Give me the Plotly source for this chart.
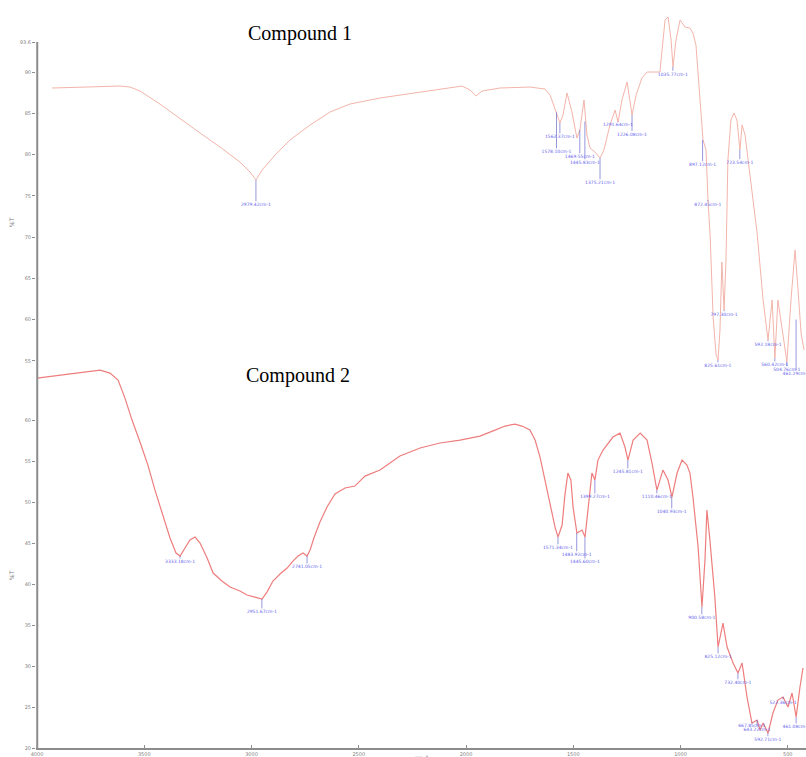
import plotly.graph_objects as go

# ---------------- data ----------------
# Compound 1 (top spectrum): wavenumber (cm-1) and %T
c1_wn = [3930, 3800, 3706, 3613, 3566, 3520, 3427, 3333, 3240, 3147, 3054, 3007, 2979, 2951, 2890,
         2821, 2727, 2634, 2541, 2401, 2214, 2075, 2019, 1981, 1953, 1925, 1842, 1702, 1632, 1608,
         1585, 1562, 1548, 1529, 1506, 1483, 1469, 1450, 1436, 1422, 1399, 1375, 1357, 1329, 1305,
         1291, 1273, 1249, 1226, 1207, 1180, 1156, 1128, 1096, 1086, 1072, 1058, 1044, 1035, 1021,
         1002, 979, 956, 942, 928, 909, 895, 881, 872, 862, 848, 834, 825, 816, 807, 797, 788, 779,
         765, 751, 737, 723, 713, 699, 676, 643, 615, 592, 573, 560, 546, 527, 504, 485, 466, 452,
         438, 424]
c1_t = [88.06, 88.18, 88.18, 88.30, 88.18, 87.70, 86.12, 84.30, 82.61, 80.91, 79.09, 77.88, 76.91,
        78.12, 79.94, 81.76, 83.58, 85.15, 86.12, 86.85, 87.58, 88.06, 88.30, 87.82, 87.09, 87.70,
        88.06, 88.18, 87.94, 87.21, 85.39, 83.82, 84.79, 87.45, 85.15, 82.00, 82.97, 86.61, 82.36,
        80.79, 80.30, 79.58, 80.55, 83.58, 85.39, 83.94, 86.61, 88.79, 84.79, 87.21, 89.27, 90.00,
        90.00, 90.00, 92.67, 96.30, 96.67, 93.88, 90.61, 93.88, 96.30, 95.45, 95.33, 94.73, 93.27,
        86.61, 81.76, 80.55, 74.48, 70.24, 60.30, 55.70, 55.09, 58.73, 66.97, 61.15, 67.21, 79.33,
        84.18, 85.03, 84.18, 80.55, 83.58, 82.36, 77.52, 70.48, 62.36, 57.52, 62.36, 55.33, 62.36,
        58.73, 54.85, 62.36, 68.42, 63.58, 58.36, 56.30]

# Compound 2 (bottom spectrum)
c2_wn = [4000, 3893, 3800, 3706, 3660, 3622, 3590, 3557, 3520, 3483, 3450, 3417, 3380, 3352, 3333,
         3310, 3287, 3263, 3240, 3207, 3179, 3138, 3100, 3054, 3021, 2984, 2951, 2928, 2900, 2867,
         2834, 2807, 2783, 2760, 2741, 2727, 2709, 2681, 2648, 2611, 2564, 2518, 2471, 2401, 2308,
         2214, 2121, 2028, 1935, 1865, 1818, 1772, 1739, 1702, 1678, 1655, 1632, 1608, 1585, 1571,
         1552, 1539, 1525, 1511, 1501, 1483, 1459, 1445, 1431, 1413, 1399, 1385, 1361, 1315, 1282,
         1259, 1245, 1221, 1188, 1156, 1133, 1110, 1082, 1058, 1040, 1016, 993, 970, 956, 942, 918,
         900, 886, 877, 863, 840, 825, 802, 783, 755, 732, 713, 690, 667, 643, 629, 615, 592, 569,
         546, 522, 499, 480, 461, 443, 429]
c2_t = [65.12, 65.49, 65.85, 66.10, 65.73, 64.88, 62.68, 60.00, 57.32, 54.51, 51.46, 48.78, 45.61,
        43.78, 43.41, 44.39, 45.37, 45.73, 45.00, 43.17, 41.34, 40.37, 39.63, 39.15, 38.66, 38.41,
        38.17, 39.02, 40.37, 41.22, 41.95, 42.80, 43.41, 43.78, 43.41, 44.15, 45.61, 47.56, 49.39,
        50.98, 51.71, 51.95, 53.17, 53.90, 55.61, 56.59, 57.20, 57.56, 58.05, 58.78, 59.27, 59.51,
        59.27, 58.78, 57.56, 55.49, 52.68, 49.39, 46.95, 45.73, 47.20, 50.85, 53.54, 52.68, 49.39,
        46.22, 46.59, 45.73, 49.39, 53.54, 52.68, 55.12, 56.34, 57.93, 58.41, 56.71, 55.12, 57.56,
        58.41, 57.56, 54.76, 51.46, 53.90, 52.68, 50.61, 53.54, 55.12, 54.51, 53.54, 50.61, 44.51,
        37.20, 42.93, 49.02, 45.37, 38.41, 32.32, 35.24, 32.32, 30.37, 29.15, 30.37, 26.22, 23.05,
        23.41, 22.20, 23.05, 21.83, 24.27, 25.85, 26.22, 25.00, 26.71, 23.78, 27.44, 29.76]

# Peak labels: wavenumber, %T at the peak, %T where the label sits
c1_peak_wn = [2979.42, 1562.37, 1578.10, 1469.55, 1445.83, 1375.21, 1291.64, 1226.08, 1035.77,
              897.12, 872.45, 797.30, 825.61, 723.54, 592.18, 560.42, 504.76, 461.29]
c1_peak_t = [76.91, 83.82, 85.10, 82.97, 84.00, 79.58, 83.94, 84.79, 90.61,
             81.76, 74.48, 61.15, 55.09, 80.55, 57.52, 55.33, 54.85, 60.00]
c1_label_t = [73.88, 82.12, 80.30, 79.70, 78.97, 76.55, 83.55, 82.40, 89.70,
              78.73, 73.88, 60.55, 54.36, 79.00, 56.90, 54.48, 53.88, 53.40]

c2_peak_wn = [3333.18, 2951.67, 2741.05, 1571.34, 1483.92, 1445.60, 1399.27, 1245.81, 1110.46,
              1040.93, 900.58, 825.12, 732.40, 667.85, 643.22, 592.71, 522.36, 461.08]
c2_peak_t = [43.41, 38.17, 43.41, 45.73, 46.22, 45.73, 52.68, 55.12, 51.46,
             50.61, 37.20, 32.32, 29.15, 23.05, 23.41, 21.83, 26.22, 23.78]
c2_label_t = [42.68, 36.59, 42.07, 44.39, 43.54, 42.68, 50.61, 53.66, 50.61,
              48.78, 35.85, 31.10, 27.93, 22.68, 22.20, 20.98, 25.49, 22.56]

x_ticks = [4000, 3500, 3000, 2500, 2000, 1500, 1000, 500]
y1_ticks = [55, 60, 65, 70, 75, 80, 85, 90, 93.6]
y2_ticks = [20, 25, 30, 35, 40, 45, 50, 55, 60]
titles = ["Compound 1", "Compound 2"]

# ---------------- figure ----------------
fig = go.Figure()

LBL = "rgb(95,95,235)"


def peak_traces(wn, pt, lt, xa, ya):
    xs, ys = [], []
    for w, p, l in zip(wn, pt, lt):
        xs += [w, w, None]
        ys += [p, l + 0.45, None]
    fig.add_trace(go.Scatter(x=xs, y=ys, mode="lines", xaxis=xa, yaxis=ya,
                             line=dict(color="rgba(80,80,200,0.75)", width=0.8),
                             hoverinfo="skip", showlegend=False))
    fig.add_trace(go.Scatter(x=wn, y=lt, mode="text", xaxis=xa, yaxis=ya,
                             text=[f"{w:.2f}cm-1" for w in wn],
                             textfont=dict(size=4.5, color=LBL, family="DejaVu Sans"),
                             textposition="middle center",
                             hoverinfo="skip", showlegend=False))


fig.add_trace(go.Scatter(x=c1_wn, y=c1_t, mode="lines", xaxis="x", yaxis="y",
                         line=dict(color="rgb(243,180,170)", width=1), showlegend=False))
peak_traces(c1_peak_wn, c1_peak_t, c1_label_t, "x", "y")

fig.add_trace(go.Scatter(x=c2_wn, y=c2_t, mode="lines", xaxis="x2", yaxis="y2",
                         line=dict(color="rgb(238,125,125)", width=1.2), showlegend=False))
peak_traces(c2_peak_wn, c2_peak_t, c2_label_t, "x2", "y2")

GRAY = "rgb(140,140,140)"
tickfont = dict(size=5, color="rgb(130,130,130)", family="DejaVu Sans")
XRANGE = [4004.7, 415]

fig.update_layout(
    width=806, height=757,
    margin=dict(l=36, r=0, t=8, b=9),
    paper_bgcolor="white", plot_bgcolor="rgba(0,0,0,0)",
    showlegend=False,
    xaxis=dict(range=XRANGE, domain=[0, 1], anchor="y", visible=False,
               showgrid=False, zeroline=False),
    yaxis=dict(range=[50.85, 97.76], domain=[0.477, 1], anchor="x",
               showgrid=False, zeroline=False, showline=False,
               tickvals=y1_ticks, ticktext=[str(v) for v in y1_ticks],
               ticks="outside", ticklen=3, tickcolor=GRAY, tickfont=tickfont),
    xaxis2=dict(range=XRANGE, domain=[0, 1], anchor="y2",
                showgrid=False, zeroline=False, showline=True, linecolor=GRAY, linewidth=2,
                tickvals=x_ticks, ticktext=[str(v) for v in x_ticks],
                ticks="inside", ticklen=3, tickcolor=GRAY, tickfont=tickfont),
    yaxis2=dict(range=[20, 67.93], domain=[0, 0.531], anchor="x2",
                showgrid=False, zeroline=False, showline=False,
                tickvals=y2_ticks, ticktext=[str(v) for v in y2_ticks],
                ticks="outside", ticklen=3, tickcolor=GRAY, tickfont=tickfont),
)

# left axis line spanning both panels (from the top tick down to the x axis)
fig.add_shape(type="line", xref="paper", yref="paper", x0=0.0016, x1=0.0016, y0=0, y1=0.954,
              layer="above", line=dict(color=GRAY, width=2))

# panel titles
fig.add_annotation(text=titles[0], xref="paper", yref="paper", x=0.343, y=0.966,
                   xanchor="center", yanchor="middle",
                   showarrow=False, font=dict(family="Liberation Serif", size=20, color="black"))
fig.add_annotation(text=titles[1], xref="paper", yref="paper", x=0.340, y=0.504,
                   xanchor="center", yanchor="middle",
                   showarrow=False, font=dict(family="Liberation Serif", size=20, color="black"))

# y axis titles
for yp in (0.711, 0.234):
    fig.add_annotation(text="%T", xref="paper", yref="paper", x=-0.031, y=yp,
                       xanchor="center", yanchor="middle",
                       showarrow=False, textangle=-90,
                       font=dict(size=6, color="rgb(120,120,120)", family="DejaVu Sans"))

# x axis title (partly cut off at the bottom edge)
fig.add_annotation(text="cm-1", xref="paper", yref="paper", x=0.5, y=-0.006,
                   xanchor="center", yanchor="top", showarrow=False,
                   font=dict(size=6, color="rgb(120,120,120)", family="DejaVu Sans"))

fig.write_html("out.html", config={"displayModeBar": False},
               post_script="document.body.style.margin='0';")
